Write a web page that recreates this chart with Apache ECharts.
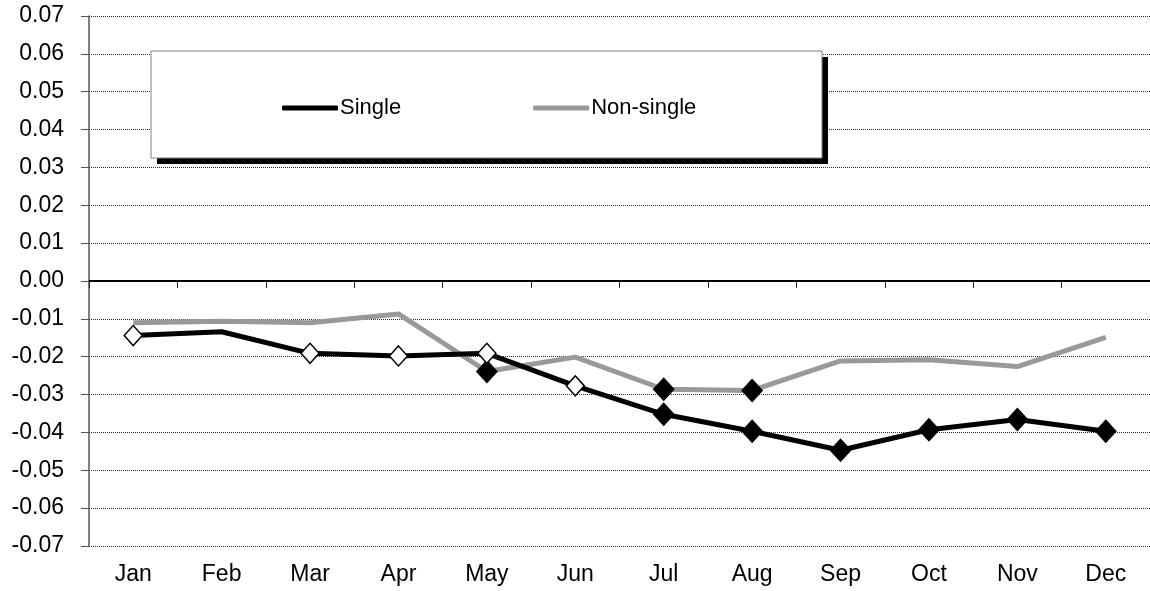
<!DOCTYPE html>
<html>
<head>
<meta charset="utf-8">
<script src="https://cdn.jsdelivr.net/npm/echarts@6/dist/echarts.min.js"></script>
<style>
  html, body { margin: 0; padding: 0; background: #fff; }
  #chart { width: 1150px; height: 591px; }
</style>
</head>
<body>
<div id="chart"></div>
<script>
// months on the x axis
var months = ['Jan', 'Feb', 'Mar', 'Apr', 'May', 'Jun', 'Jul', 'Aug', 'Sep', 'Oct', 'Nov', 'Dec'];
var singleValues = [-0.0144, -0.0134, -0.0191, -0.0198, -0.0191, -0.0277, -0.0352, -0.0397, -0.0447, -0.0393, -0.0366, -0.0397];
var nonSingleValues = [-0.0110, -0.0106, -0.0110, -0.0087, -0.0239, -0.0201, -0.0286, -0.0289, -0.0211, -0.0208, -0.0226, -0.0149];
// marker kind per month: open diamond, filled diamond or nothing
var singleMarks = ['open', 'none', 'open', 'open', 'open', 'open', 'filled', 'filled', 'filled', 'filled', 'filled', 'filled'];
var nonSingleMarks = ['none', 'none', 'none', 'none', 'filled', 'none', 'filled', 'filled', 'none', 'none', 'none', 'none'];

var font = 'Liberation Sans, Arial, sans-serif';

// turn values + marker kinds into data items
function buildData(values, marks) {
  return values.map(function (v, i) {
    var m = marks[i];
    if (m === 'none') {
      return { value: v, symbol: 'none' };
    }
    if (m === 'open') {
      return {
        value: v,
        symbol: 'diamond',
        symbolSize: [18, 20],
        itemStyle: { color: '#fff', borderColor: '#000', borderWidth: 1.5 }
      };
    }
    return {
      value: v,
      symbol: 'diamond',
      symbolSize: [22, 24],
      itemStyle: { color: '#000', borderColor: '#000', borderWidth: 0 }
    };
  });
}

var chart = echarts.init(document.getElementById('chart'), null, { renderer: 'canvas' });

var option = {
  backgroundColor: '#fff',
  animation: false,
  grid: { left: 89, right: 0, top: 16, bottom: 45, containLabel: false },
  // legend box + its hard shadow
  graphic: [
    {
      type: 'rect',
      z: 3,
      shape: { x: 157, y: 57, width: 671, height: 107 },
      style: { fill: '#000' }
    },
    {
      type: 'rect',
      z: 4,
      shape: { x: 151, y: 51, width: 671, height: 107 },
      style: { fill: '#fff', stroke: '#808080', lineWidth: 1 }
    }
  ],
  legend: {
    left: 277,
    top: 92,
    z: 6,
    itemGap: 132,
    itemWidth: 56,
    itemHeight: 5,
    icon: 'roundRect',
    textStyle: { fontFamily: font, fontSize: 22, color: '#000', padding: [0, 0, 0, -3] },
    data: ['Single', 'Non-single']
  },
  xAxis: {
    type: 'category',
    data: months,
    boundaryGap: true,
    axisLine: { lineStyle: { color: '#222', width: 1.5 } },
    axisTick: { show: true, inside: false, length: 7, alignWithLabel: false, lineStyle: { color: '#222' } },
    axisLabel: { fontFamily: font, fontSize: 23, color: '#000', margin: 17 },
    splitLine: { show: false }
  },
  yAxis: {
    type: 'value',
    min: -0.07,
    max: 0.07,
    interval: 0.01,
    axisLine: { show: true, lineStyle: { color: '#555', width: 1.5 } },
    axisTick: { show: true, length: 8, lineStyle: { color: '#555' } },
    axisLabel: {
      fontFamily: font,
      fontSize: 23,
      color: '#000',
      margin: 25,
      formatter: function (v) { return v.toFixed(2); }
    },
    splitLine: { show: true, lineStyle: { color: '#333', width: 1, type: [1, 1] } }
  },
  series: [
    {
      name: 'Non-single',
      type: 'line',
      z: 2,
      color: '#999',
      lineStyle: { color: '#999', width: 5 },
      symbol: 'diamond',
      showAllSymbol: true,
      data: buildData(nonSingleValues, nonSingleMarks)
    },
    {
      name: 'Single',
      type: 'line',
      z: 3,
      color: '#000',
      lineStyle: { color: '#000', width: 5 },
      symbol: 'diamond',
      showAllSymbol: true,
      data: buildData(singleValues, singleMarks),
      markLine: {
        silent: true,
        symbol: 'none',
        label: { show: false },
        lineStyle: { color: '#000', width: 2, type: 'solid' },
        data: [{ yAxis: 0 }]
      }
    }
  ]
};

chart.setOption(option);
</script>
</body>
</html>
